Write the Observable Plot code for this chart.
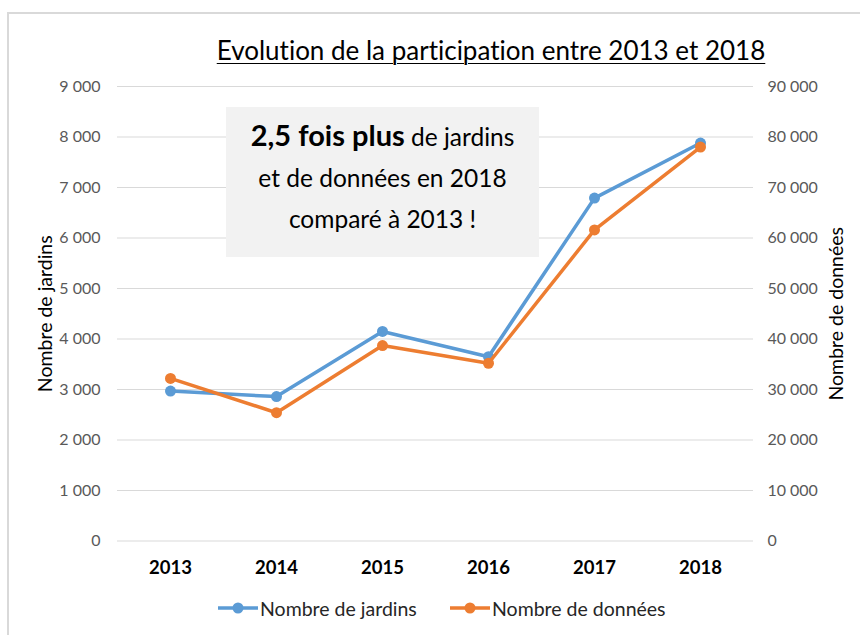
<!DOCTYPE html>
<html>
<head>
<meta charset="utf-8">
<script src="https://cdn.jsdelivr.net/npm/d3@7"></script>
<script src="https://cdn.jsdelivr.net/npm/@observablehq/plot@0.6"></script>
<style>
  body { margin: 0; background: #fff; font-family: Lato, "Open Sans", sans-serif; font-variant-ligatures: none; }
  #wrap { position: relative; width: 860px; height: 635px; overflow: hidden; }
  #frame { position: absolute; left: 7px; top: 12px; width: 900px; height: 700px;
           border-top: 2px solid #d9d9d9; border-left: 2px solid #d9d9d9; }
  #chart { position: absolute; left: 0; top: 0; }
  #title { position: absolute; left: 491px; top: 35px; transform: translateX(-50%);
           white-space: nowrap; font-size: 26px; line-height: 30px; color: #000;
           text-decoration: underline; text-underline-offset: 3px; text-decoration-thickness: 1px; }
  #note { position: absolute; left: 226px; top: 107px; width: 313px; height: 150px;
          background: #f2f2f2; text-align: center; color: #000; box-sizing: border-box; padding-top: 7px; }
  #note div { line-height: 41px; font-size: 24.5px; white-space: nowrap; }
  #note b { font-size: 29px; }
  #legend { position: absolute; top: 597px; left: 0; width: 860px; height: 22px; }
  .li { position: absolute; top: 0; display: flex; align-items: center; font-size: 19.5px; color: #262626; white-space: nowrap; height: 22px; }
  .li svg { margin-right: 2px; }
</style>
</head>
<body>
<div id="wrap">
  <div id="frame"></div>
  <div id="chart"></div>
  <div id="title">Evolution de la participation entre 2013 et 2018</div>
  <div id="note">
    <div><b>2,5 fois plus</b> de jardins</div>
    <div>et de données en 2018</div>
    <div>comparé à 2013 !</div>
  </div>
  <div id="legend"></div>
</div>
<script>
const years = ["2013", "2014", "2015", "2016", "2017", "2018"];
const jardins = [2970, 2860, 4150, 3650, 6790, 7880];
const donnees = [32200, 25400, 38700, 35200, 61600, 78000];
const leftTicks = [0, 1000, 2000, 3000, 4000, 5000, 6000, 7000, 8000, 9000];
const rightTicks = [0, 10000, 20000, 30000, 40000, 50000, 60000, 70000, 80000, 90000];
const seriesNames = ["Nombre de jardins", "Nombre de données"];
const colors = ["#5B9BD5", "#ED7D31"];

const ratio = 10; // secondary axis = primary * 10
const data = years.map((y, i) => ({year: y, jardins: jardins[i], donnees: donnees[i]}));
const fr = d3.formatLocale({decimal: ",", thousands: "\u00a0", grouping: [3], currency: ["", "€"]}).format(",d");
const frR = d3.formatLocale({decimal: ",", thousands: "\u202f", grouping: [3], currency: ["", "€"]}).format(",d");

const chart = Plot.plot({
  width: 860,
  height: 635,
  marginLeft: 117,
  marginRight: 107,
  marginTop: 86,
  marginBottom: 94.5,
  style: {fontFamily: "Lato, 'Open Sans', sans-serif", background: "transparent", overflow: "visible"},
  x: {type: "point", domain: years, padding: 0.5, label: null},
  y: {domain: [0, 9000], label: null},
  marks: [
    Plot.gridY(leftTicks, {stroke: "#d9d9d9", strokeOpacity: 1, strokeWidth: 1}),
    Plot.axisY(leftTicks, {anchor: "left", tickSize: 0, tickPadding: 17, tickFormat: fr, fontSize: 16, fill: "#595959", label: null}),
    Plot.axisY(rightTicks.map(d => d / ratio), {anchor: "right", tickSize: 0, tickPadding: 14, tickFormat: d => frR(d * ratio), fontSize: 16, fill: "#595959", label: null}),
    Plot.axisX({tickSize: 0, tickPadding: 20, fontWeight: "bold", fontSize: 18.5, fill: "#000", label: null}),
    Plot.text([seriesNames[0]], {frameAnchor: "left", textAnchor: "middle", dx: -72, rotate: -90, fontSize: 19.5, fill: "#000"}),
    Plot.text([seriesNames[1]], {frameAnchor: "right", textAnchor: "middle", dx: 83, rotate: -90, fontSize: 19.5, fill: "#000"}),
    Plot.line(data, {x: "year", y: "jardins", stroke: colors[0], strokeWidth: 3.5}),
    Plot.dot(data, {x: "year", y: "jardins", fill: colors[0], r: 5.5}),
    Plot.line(data, {x: "year", y: d => d.donnees / ratio, stroke: colors[1], strokeWidth: 3.5}),
    Plot.dot(data, {x: "year", y: d => d.donnees / ratio, fill: colors[1], r: 5.5})
  ]
});
document.getElementById("chart").appendChild(chart);

// Legend
const legend = document.getElementById("legend");
const legendX = [218, 450];
seriesNames.forEach((name, i) => {
  const item = document.createElement("div");
  item.className = "li";
  item.style.left = legendX[i] + "px";
  item.innerHTML = `<svg width="40" height="12"><line x1="0" x2="40" y1="6" y2="6" stroke="${colors[i]}" stroke-width="3.5"/><circle cx="20" cy="6" r="5.5" fill="${colors[i]}"/></svg><span>${name}</span>`;
  legend.appendChild(item);
});
</script>
</body>
</html>
